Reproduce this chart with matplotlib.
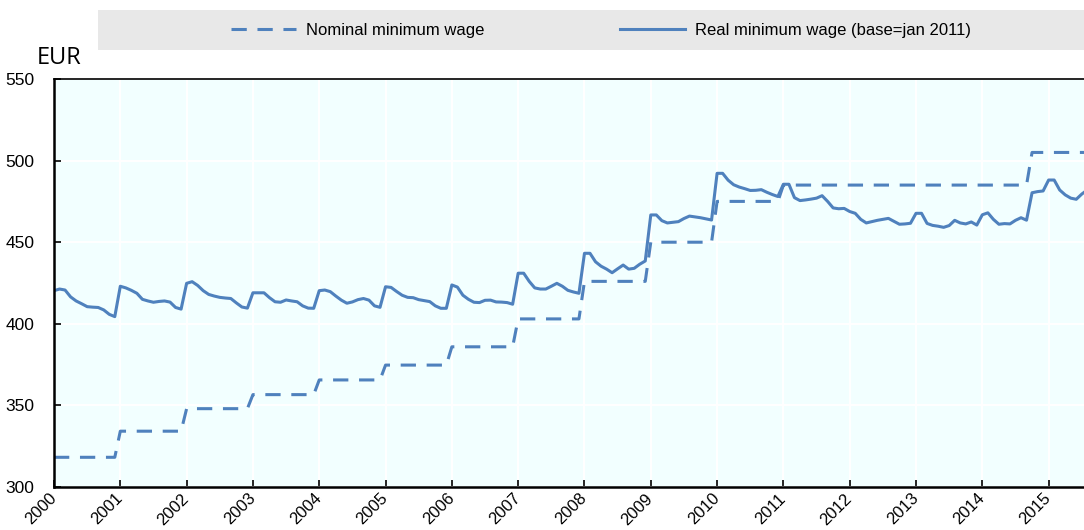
import numpy as np
import matplotlib
matplotlib.use('Agg')
import matplotlib.pyplot as plt
from matplotlib.patches import Rectangle
from matplotlib.lines import Line2D

# monthly data, Jan 2000 .. Aug 2015
real_wage = (
    [420.3, 421.3, 420.7, 416.5, 414.0, 412.3, 410.5, 410.2, 410.0, 408.5, 405.8, 404.4]   # 2000
    + [423.0, 422.0, 420.5, 418.7, 415.0, 414.0, 413.2, 413.7, 414.0, 413.3, 410.0, 409.0]  # 2001
    + [424.8, 425.8, 423.5, 420.3, 418.0, 417.0, 416.2, 415.8, 415.5, 412.8, 410.3, 409.6]  # 2002
    + [419.0, 419.0, 419.0, 416.0, 413.5, 413.2, 414.6, 414.0, 413.5, 411.0, 409.6, 409.5]  # 2003
    + [420.3, 420.7, 419.7, 417.0, 414.5, 412.6, 413.4, 414.8, 415.5, 414.5, 411.0, 410.1]  # 2004
    + [422.7, 422.3, 419.8, 417.5, 416.2, 416.0, 414.8, 414.2, 413.6, 411.0, 409.5, 409.5]  # 2005
    + [423.8, 422.5, 417.5, 415.0, 413.2, 413.0, 414.4, 414.5, 413.4, 413.3, 413.0, 412.0]  # 2006
    + [431.0, 431.0, 426.0, 422.0, 421.3, 421.3, 423.0, 424.8, 423.0, 420.5, 419.5, 418.7]  # 2007
    + [443.2, 443.2, 438.0, 435.3, 433.5, 431.3, 433.7, 436.0, 433.5, 434.0, 436.5, 438.5]  # 2008
    + [466.7, 466.7, 463.2, 461.8, 462.2, 462.6, 464.5, 466.0, 465.5, 465.0, 464.3, 463.6]  # 2009
    + [492.2, 492.2, 488.0, 485.2, 483.8, 482.8, 481.7, 481.8, 482.2, 480.6, 479.2, 478.0]  # 2010
    + [485.5, 485.5, 477.3, 475.5, 475.9, 476.4, 477.0, 478.5, 475.0, 471.0, 470.5, 470.7]  # 2011
    + [468.8, 467.7, 464.0, 461.8, 462.6, 463.4, 464.0, 464.6, 462.8, 461.0, 461.2, 461.6]  # 2012
    + [467.7, 467.7, 461.5, 460.3, 459.8, 459.1, 460.2, 463.4, 461.8, 461.2, 462.4, 460.5]  # 2013
    + [466.8, 468.0, 464.0, 461.0, 461.4, 461.2, 463.4, 465.0, 463.5, 480.3, 481.0, 481.4]  # 2014
    + [488.1, 488.1, 482.0, 479.0, 477.0, 476.3, 479.5, 482.0]                              # 2015
)

# nominal minimum wage: level and month (from Jan 2000) it starts
nominal_start = [0, 12, 24, 36, 48, 60, 72, 84, 96, 108, 120, 132, 177]
nominal_level = [318.2, 334.2, 348.0, 356.6, 365.6, 374.7, 385.9, 403.0, 426.0, 450.0, 475.0, 485.0, 505.0]

years = list(range(2000, 2016))
year_labels = [str(y) for y in years]

n = len(real_wage)
t = 2000 + np.arange(n) / 12.0
idx = np.searchsorted(nominal_start, np.arange(n), side='right') - 1
nominal = np.array(nominal_level)[idx]

blue = '#4F81BD'
tick_font = ['Liberation Sans', 'DejaVu Sans']
fs = 12

fig = plt.figure(figsize=(10.84, 5.30), dpi=100)
ax = fig.add_axes([54 / 1084, 1 - 487 / 530, 1 - 54 / 1084, (487 - 79) / 530])
ax.set_facecolor('#F2FFFF')

ax.plot(t, nominal, color=blue, lw=2.2, dashes=(5, 3.5), label='Nominal minimum wage')
ax.plot(t, real_wage, color=blue, lw=2.2, label='Real minimum wage (base=jan 2011)')

ax.set_xlim(2000, 2000 + 186.4 / 12)
ax.set_ylim(300, 550)
ax.set_xticks(years)
ax.set_xticklabels(year_labels, rotation=45, ha='right', va='center',
                   rotation_mode='anchor', family=tick_font, fontsize=fs)
ax.set_yticks([300, 350, 400, 450, 500, 550])
for lab in ax.get_yticklabels():
    lab.set_family(tick_font)
    lab.set_fontsize(fs + 0.5)
ax.tick_params(direction='in', length=5, width=1.2, color='black')
ax.tick_params(axis='y', pad=14)
ax.tick_params(axis='x', pad=6.5)

ax.grid(True, color='white', lw=1.5)
ax.set_axisbelow(True)
for s in ['left', 'bottom', 'top']:
    ax.spines[s].set_linewidth(1.8)
    ax.spines[s].set_color('black')
ax.spines['top'].set_linewidth(1.2)
ax.spines['right'].set_visible(False)

fig.text(37 / 1084, 1 - 64 / 530, 'EUR', fontsize=17, family=['Open Sans', 'DejaVu Sans'])

# legend band
fig.patches.append(Rectangle((98 / 1084, 1 - 50 / 530), 1 - 98 / 1084, 40 / 530,
                             transform=fig.transFigure, facecolor='#E8E8E8',
                             edgecolor='none', zorder=0))
handles = [Line2D([], [], color=blue, lw=2.2, dashes=(5, 3.5)),
           Line2D([], [], color=blue, lw=2.2)]
fig.legend(handles, ['Nominal minimum wage', 'Real minimum wage (base=jan 2011)'],
           loc='center', bbox_to_anchor=(601 / 1084, 1 - 30 / 530), ncol=2,
           frameon=False, handlelength=3.9, handletextpad=0.6, columnspacing=8.1,
           prop={'family': tick_font, 'size': fs})

fig.savefig('out.png', dpi=100)
